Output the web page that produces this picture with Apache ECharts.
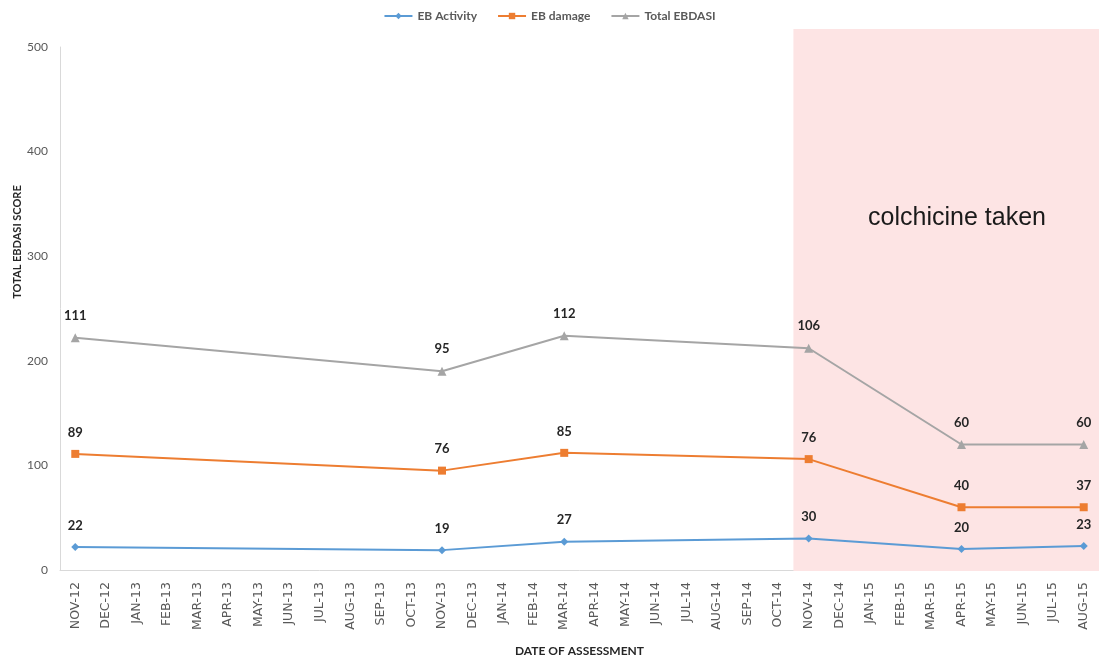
<!DOCTYPE html>
<html>
<head>
<meta charset="utf-8">
<script src="https://cdn.jsdelivr.net/npm/echarts@6/dist/echarts.min.js"></script>
<style>
html,body{margin:0;padding:0;background:#fff;}
#chart{width:1099px;height:662px;}
</style>
</head>
<body>
<div id="chart"></div>
<script>
var months = [
  'NOV-12','DEC-12','JAN-13','FEB-13','MAR-13','APR-13','MAY-13','JUN-13','JUL-13','AUG-13','SEP-13','OCT-13',
  'NOV-13','DEC-13','JAN-14','FEB-14','MAR-14','APR-14','MAY-14','JUN-14','JUL-14','AUG-14','SEP-14','OCT-14',
  'NOV-14','DEC-14','JAN-15','FEB-15','MAR-15','APR-15','MAY-15','JUN-15','JUL-15','AUG-15'
];
var assessDates = ['NOV-12','NOV-13','MAR-14','NOV-14','APR-15','AUG-15'];
var ebActivity = [22, 19, 27, 30, 20, 23];
var ebDamage = [89, 76, 85, 76, 40, 37];
var totalEbdasi = [111, 95, 112, 106, 60, 60];
var yTicks = [0, 100, 200, 300, 400, 500];
var shadeStart = 24.0;   // in month-band units (just before NOV-14)
var shadeEnd = 34;

function toSeries(vals) {
  return months.map(function (m) {
    var i = assessDates.indexOf(m);
    return i >= 0 ? vals[i] : null;
  });
}

var font = 'Lato, "Open Sans", sans-serif';
var labelStyle = {show: true, position: 'top', distance: 11, color: '#262626', fontWeight: 'bold', fontSize: 13, fontFamily: font};

var chart = echarts.init(document.getElementById('chart'));
chart.setOption({
  animation: false,
  backgroundColor: '#fff',
  legend: {
    data: ['EB Activity', 'EB damage', 'Total EBDASI'],
    top: 5, left: 'center',
    itemWidth: 28, itemHeight: 8, itemGap: 20,
    textStyle: {color: '#595959', fontSize: 12, fontWeight: 'bold', fontFamily: font}
  },
  grid: [
    {left: 60, right: -3, top: 47, bottom: 91},
    {left: 60, right: -3, top: 29, bottom: 91}
  ],
  xAxis: [
    {
      type: 'category', data: months, gridIndex: 0, boundaryGap: true,
      axisLine: {lineStyle: {color: '#d9d9d9', width: 1}},
      axisTick: {show: false},
      axisLabel: {rotate: 90, interval: 0, margin: 12, color: '#595959', fontSize: 12.5, fontFamily: '"DejaVu Sans", sans-serif'},
      name: 'DATE OF ASSESSMENT', nameLocation: 'middle', nameGap: 75,
      nameTextStyle: {color: '#262626', fontWeight: 'bold', fontSize: 12, fontFamily: font}
    },
    {type: 'value', gridIndex: 1, min: 0, max: shadeEnd, show: false}
  ],
  yAxis: [
    {
      type: 'value', gridIndex: 0, min: 0, max: 500, interval: 100,
      axisLine: {show: true, lineStyle: {color: '#d9d9d9', width: 1}},
      axisTick: {show: false},
      splitLine: {show: false},
      axisLabel: {color: '#595959', fontSize: 12, margin: 12, fontFamily: font,
        customValues: yTicks}
    },
    {type: 'value', gridIndex: 1, min: 0, max: 1, show: false}
  ],
  graphic: [
    {type: 'text', x: 17, y: 242, rotation: Math.PI / 2,
      style: {text: 'TOTAL EBDASI SCORE', fill: '#262626', font: 'bold 11px ' + font, textAlign: 'center', textVerticalAlign: 'middle'}},
    {type: 'text', x: 957, y: 218, z: 10,
      style: {text: 'colchicine taken', fill: '#1a1a1a', font: '25px "Liberation Sans", Arial, sans-serif', textAlign: 'center', textVerticalAlign: 'middle'}}
  ],
  series: [
    {
      name: 'shade', type: 'line', xAxisIndex: 1, yAxisIndex: 1, z: 0,
      data: [[shadeStart, 0]], showSymbol: false, lineStyle: {opacity: 0}, silent: true,
      markArea: {silent: true, itemStyle: {color: '#fde4e4'}, data: [[{xAxis: shadeStart}, {xAxis: shadeEnd}]]}
    },
    {
      name: 'EB Activity', type: 'line', stack: 'ebdasi', connectNulls: true, z: 3,
      data: toSeries(ebActivity),
      symbol: 'diamond', symbolSize: 8,
      itemStyle: {color: '#5b9bd5'}, lineStyle: {color: '#5b9bd5', width: 2},
      label: labelStyle
    },
    {
      name: 'EB damage', type: 'line', stack: 'ebdasi', connectNulls: true, z: 3,
      data: toSeries(ebDamage),
      symbol: 'rect', symbolSize: 8,
      itemStyle: {color: '#ed7d31'}, lineStyle: {color: '#ed7d31', width: 2},
      label: labelStyle
    },
    {
      name: 'Total EBDASI', type: 'line', stack: 'ebdasi', connectNulls: true, z: 3,
      data: toSeries(totalEbdasi),
      symbol: 'triangle', symbolSize: 9,
      itemStyle: {color: '#a5a5a5'}, lineStyle: {color: '#a5a5a5', width: 2},
      label: labelStyle
    }
  ]
});
</script>
</body>
</html>
